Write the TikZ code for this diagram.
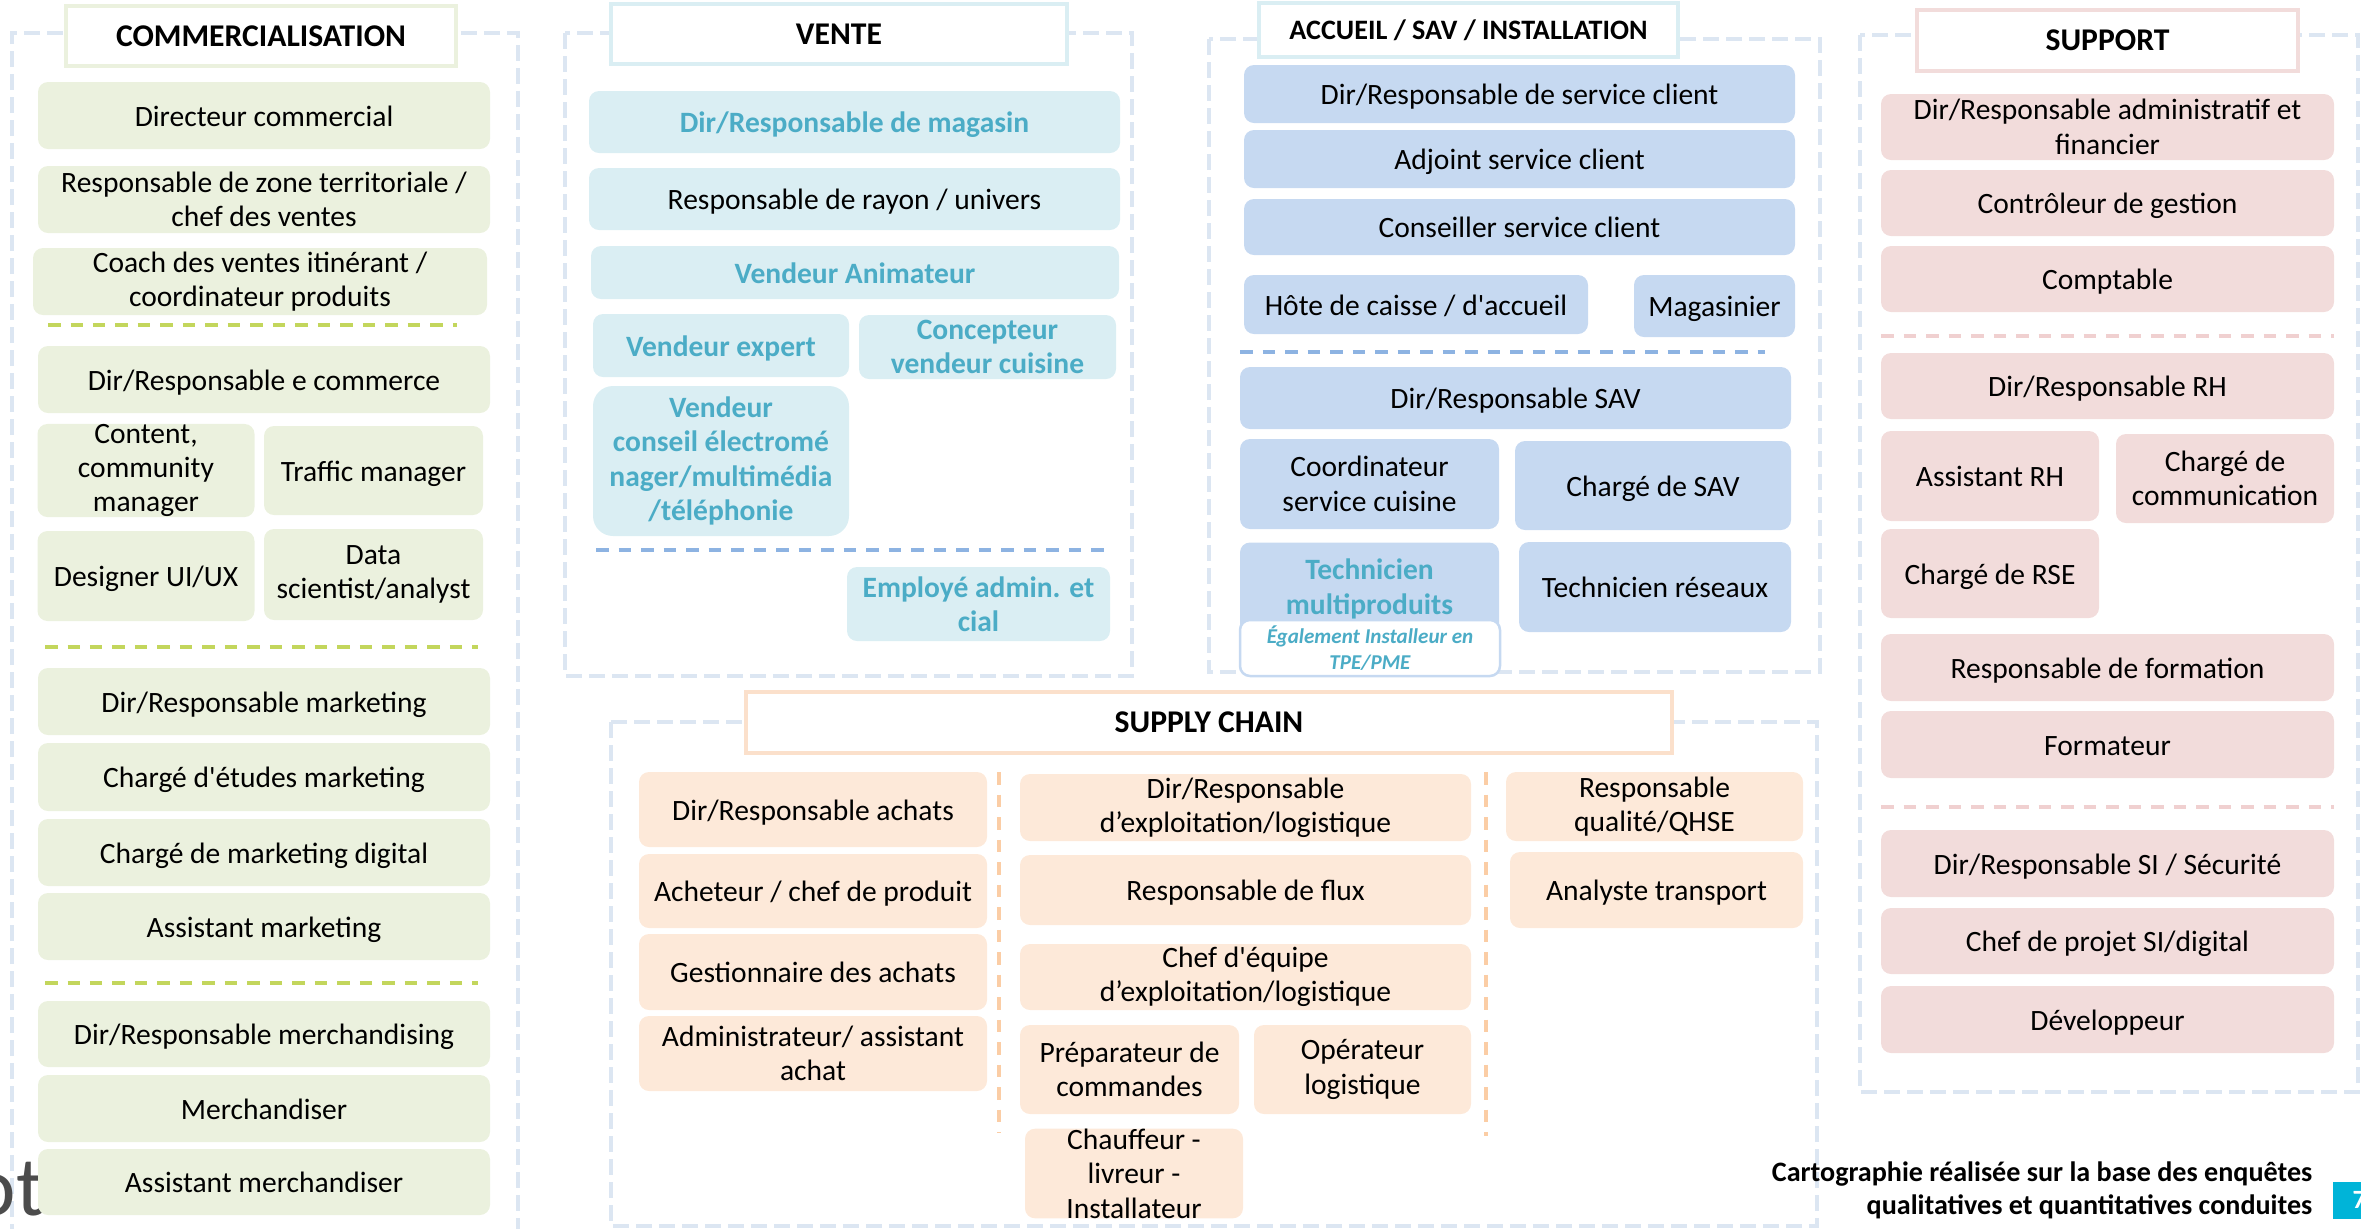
\documentclass[tikz,border=0pt]{standalone}
\usepackage{fontspec}
\setmainfont{Carlito}

\definecolor{zonec}{RGB}{220,230,242}
\definecolor{comgreen}{RGB}{235,241,222}
\definecolor{comline}{RGB}{195,214,92}
\definecolor{ventblue}{RGB}{218,238,243}
\definecolor{ventteal}{RGB}{75,172,198}
\definecolor{accblue}{RGB}{198,217,241}
\definecolor{accline}{RGB}{141,179,226}
\definecolor{suppink}{RGB}{242,220,219}
\definecolor{supline}{RGB}{240,208,208}
\definecolor{scpeach}{RGB}{253,233,217}
\definecolor{scborder}{RGB}{251,224,203}
\definecolor{scline}{RGB}{251,205,165}
\definecolor{pagecyan}{RGB}{0,180,216}

\newcommand\jobfont{\fontsize{8.4}{9.8}\selectfont}
\newcommand\headfont{\fontsize{9}{10}\selectfont\bfseries}

\begin{document}
\begin{tikzpicture}[x=0.1mm, y=-0.1mm,
	zone/.style={draw=zonec, line width=0.4mm, dash pattern=on 1.6mm off 0.7mm},
	headbox/.style={draw=#1, fill=white, line width=0.45mm, inner sep=0pt, font=\headfont},
	job/.style={fill=#1, rounded corners=1mm, inner sep=0pt, align=center, font=\jobfont,
		text height=8.3pt, text depth=2.1pt},
	lines/.style={text height=, text depth=},
	sz/.style 2 args={minimum width=#1*0.1mm, minimum height=#2*0.1mm},
	divline/.style={draw=#1, line width=0.35mm, dash pattern=on 1.25mm off 1mm},
	vente/.style={text=ventteal, font=\jobfont\bfseries}]

	\clip (0,0) rectangle (2361,1228);

	% cadres
	\draw[zone] (12,1240) rectangle (518,33);
	\draw[zone] (565,33) rectangle (1132,676);
	\draw[zone] (1209,39) rectangle (1820,672);
	\draw[zone] (1860,35) rectangle (2358,1092);
	\draw[zone] (611,722) rectangle (1817,1226);

	% titres
	\node[headbox=comgreen, sz={390}{60}] (tcom) at (261,36) {COMMERCIALISATION};
	\node[headbox=ventblue, sz={456}{60}] (tvente) at (839,34) {VENTE};
	\node[headbox=ventblue, sz={419}{54}, font=\fontsize{8}{9}\selectfont\bfseries] (tacc) at (1468.5,30) {ACCUEIL / SAV / INSTALLATION};
	\node[headbox=suppink, sz={381}{61}] (tsup) at (2107.5,40.5) {SUPPORT};
	\node[headbox=scborder, sz={926}{61}] (tsc) at (1209,722.5) {SUPPLY CHAIN};

	% commercialisation
	\node[anchor=base east, inner sep=0pt, text=black!70, font=\fontsize{24}{24}\selectfont] (logo) at (45,1215) {ot};
	\node[job=comgreen, sz={452}{67}] (c1) at (264,115.5) {Directeur commercial};
	\node[job=comgreen, lines, sz={452}{67}] (c2) at (264,199.5) {Responsable de zone territoriale /\\chef des ventes};
	\node[job=comgreen, lines, sz={454}{67}] (c3) at (260,281.5) {Coach des ventes itinérant /\\coordinateur produits};
	\draw[divline=comline] (48,325) -- (457,325);
	\node[job=comgreen, sz={452}{67}] (c4) at (264,379.5) {Dir/Responsable e commerce};
	\node[job=comgreen, lines, sz={217}{89}] (c5) at (146,470.5) {Content,\\community\\manager};
	\node[job=comgreen, sz={219}{89}] (c6) at (373.5,470.5) {Traffic manager};
	\node[job=comgreen, sz={217}{90}] (c7) at (146,576) {Designer UI/UX};
	\node[job=comgreen, lines, sz={219}{91}] (c8) at (373.5,574.5) {Data\\scientist/analyst};
	\draw[divline=comline] (45,647) -- (478,647);
	\node[job=comgreen, sz={452}{67}] (c9) at (264,701.5) {Dir/Responsable marketing};
	\node[job=comgreen, sz={452}{68}] (c10) at (264,777) {Chargé d\textquotesingle études marketing};
	\node[job=comgreen, sz={452}{67}] (c11) at (264,852.5) {Chargé de marketing digital};
	\node[job=comgreen, sz={452}{67}] (c12) at (264,926.5) {Assistant marketing};
	\draw[divline=comline] (45,983) -- (478,983);
	\node[job=comgreen, sz={452}{66}] (c13) at (264,1034) {Dir/Responsable merchandising};
	\node[job=comgreen, sz={452}{67}] (c14) at (264,1108.5) {Merchandiser};
	\node[job=comgreen, sz={452}{66}] (c15) at (264,1182) {Assistant merchandiser};

	% vente
	\node[job=ventblue, vente, sz={531}{62}] (v1) at (854.5,122) {Dir/Responsable de magasin};
	\node[job=ventblue, sz={531}{62}] (v2) at (854.5,199) {Responsable de rayon / univers};
	\node[job=ventblue, vente, sz={528}{53}] (v3) at (855,272.5) {Vendeur Animateur};
	\node[job=ventblue, vente, sz={256}{63}] (v4) at (721,345.5) {Vendeur expert};
	\node[job=ventblue, vente, lines, sz={257}{64}] (v5) at (987.5,347) {Concepteur\\vendeur cuisine};
	\node[job=ventblue, vente, lines, sz={256}{150}, rounded corners=2mm] (v6) at (721,461) {Vendeur\\conseil électromé\\nager/multimédia\\/téléphonie};
	\draw[divline=accline] (596,550) -- (1110,550);
	\node[job=ventblue, vente, lines, sz={263}{74}] (v7) at (978.5,604) {Employé admin. et\\cial};

	% accueil / sav / installation
	\node[job=accblue, sz={551}{58}] (a1) at (1519.5,94) {Dir/Responsable de service client};
	\node[job=accblue, sz={551}{58}] (a2) at (1519.5,159) {Adjoint service client};
	\node[job=accblue, sz={551}{56}] (a3) at (1519.5,227) {Conseiller service client};
	\node[job=accblue, sz={344}{59}] (a4) at (1416,304.5) {Hôte de caisse / d\textquotesingle accueil};
	\node[job=accblue, sz={161}{62}] (a5) at (1714.5,306) {Magasinier};
	\draw[divline=accline] (1240,352) -- (1765,352);
	\node[job=accblue, sz={551}{62}] (a6) at (1515.5,398) {Dir/Responsable SAV};
	\node[job=accblue, lines, sz={259}{90}] (a7) at (1369.5,484) {Coordinateur\\service cuisine};
	\node[job=accblue, sz={276}{89}] (a8) at (1653,485.5) {Chargé de SAV};
	\node[job=accblue, vente, lines, sz={259}{93}] (a9) at (1369.5,589) {Technicien\\multiproduits};
	\node[job=accblue, sz={272}{90}] (a10) at (1655,587) {Technicien réseaux};
	\node[job=white, lines, draw=accblue, line width=0.25mm, sz={260}{56}, text=ventteal,
		font=\fontsize{6}{7.3}\selectfont\bfseries\itshape] (a11) at (1370,648) {Également Installeur en\\TPE/PME};

	% support
	\node[job=suppink, lines, sz={453}{66}] (s1) at (2107.5,127) {Dir/Responsable administratif et\\financier};
	\node[job=suppink, sz={453}{66}] (s2) at (2107.5,203) {Contrôleur de gestion};
	\node[job=suppink, sz={453}{66}] (s3) at (2107.5,279) {Comptable};
	\draw[divline=supline] (1881,336) -- (2334,336);
	\node[job=suppink, sz={453}{66}] (s4) at (2107.5,386) {Dir/Responsable RH};
	\node[job=suppink, sz={218}{90}] (s5) at (1990,476) {Assistant RH};
	\node[job=suppink, lines, sz={218}{89}] (s6) at (2225,478.5) {Chargé de\\communication};
	\node[job=suppink, sz={218}{89}] (s7) at (1990,573.5) {Chargé de RSE};
	\node[job=suppink, sz={453}{67}] (s8) at (2107.5,667.5) {Responsable de formation};
	\node[job=suppink, sz={453}{67}] (s9) at (2107.5,744.5) {Formateur};
	\draw[divline=supline] (1881,807) -- (2334,807);
	\node[job=suppink, sz={453}{67}] (s10) at (2107.5,863.5) {Dir/Responsable SI / Sécurité};
	\node[job=suppink, sz={453}{66}] (s11) at (2107.5,941) {Chef de projet SI/digital};
	\node[job=suppink, sz={453}{67}] (s12) at (2107.5,1019.5) {Développeur};

	% supply chain
	\node[job=scpeach, sz={348}{75}] (p1) at (813,809.5) {Dir/Responsable achats};
	\node[job=scpeach, sz={348}{74}] (p2) at (813,891) {Acheteur / chef de produit};
	\node[job=scpeach, sz={348}{76}] (p3) at (813,972) {Gestionnaire des achats};
	\node[job=scpeach, lines, sz={348}{75}] (p4) at (813,1053.5) {Administrateur/ assistant\\achat};
	\draw[divline=scline] (999,772) -- (999,1133);
	\node[job=scpeach, lines, sz={451}{67}] (p5) at (1245.5,807.5) {Dir/Responsable\\d’exploitation/logistique};
	\node[job=scpeach, sz={451}{70}] (p6) at (1245.5,890) {Responsable de flux};
	\node[job=scpeach, lines, sz={451}{66}] (p7) at (1245.5,977) {Chef d\textquotesingle équipe\\d’exploitation/logistique};
	\node[job=scpeach, lines, sz={219}{89}] (p8) at (1129.5,1069.5) {Préparateur de\\commandes};
	\node[job=scpeach, lines, sz={217}{89}] (p9) at (1362.5,1069.5) {Opérateur\\logistique};
	\node[job=scpeach, lines, sz={218}{89}] (p10) at (1134,1173.5) {Chauffeur -\\livreur -\\Installateur};
	\draw[divline=scline] (1486,772) -- (1486,1136);
	\node[job=scpeach, lines, sz={297}{69}] (p11) at (1654.5,806.5) {Responsable\\qualité/QHSE};
	\node[job=scpeach, sz={293}{76}] (p12) at (1656.5,890) {Analyste transport};

	% legende
	\node[anchor=east, align=right, inner sep=0pt, font=\fontsize{8}{9.4}\selectfont\bfseries] (legende) at (2313,1190) {Cartographie réalisée sur la base des enquêtes\\qualitatives et quantitatives conduites};
	\node[anchor=north west, fill=pagecyan, text=white, inner xsep=2mm, inner ysep=0pt, minimum height=3.7mm,
		font=\fontsize{7.5}{8}\selectfont\bfseries] (page) at (2332,1181) {7};
\end{tikzpicture}
\end{document}
